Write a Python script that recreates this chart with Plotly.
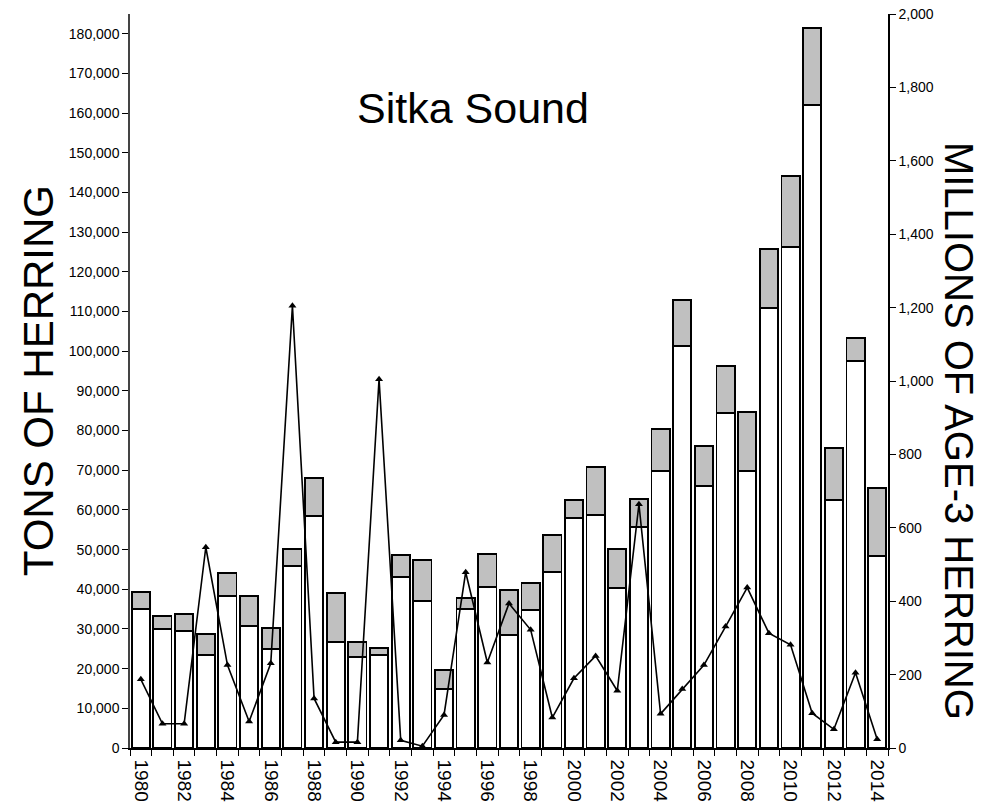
import plotly.graph_objects as go

years = list(range(1980, 2015))
total_tons = [39240, 33350, 33770, 28810, 44190, 38310, 30320, 50150, 67970, 39070,
              26630, 25290, 48640, 47300, 19660, 37880, 48980, 39740, 41590, 53690,
              62590, 70740, 50150, 62680, 80400, 112830, 76110, 96280, 84610, 125840,
              144240, 181470, 75690, 103260, 65450]
lower_tons = [34950, 29910, 29490, 23360, 38390, 30830, 24950, 45870, 58470, 26800,
              22850, 23360, 43180, 37050, 14790, 34950, 40660, 28480, 34780, 44450,
              57890, 58640, 40240, 55710, 69810, 101320, 66030, 84520, 69890, 110900,
              126270, 161980, 62510, 97540, 48470]
age3_millions = [187, 66, 66, 547, 226, 72, 231, 1205, 135, 16,
                 16, 1005, 21, 5, 90, 479, 233, 394, 322, 83,
                 190, 251, 156, 664, 93, 161, 226, 331, 437, 313,
                 281, 95, 51, 205, 24]
upper_tons = [t - l for t, l in zip(total_tons, lower_tons)]
label_years = [y for y in years if y % 2 == 0]

FONT = "Liberation Sans, Arial, sans-serif"

fig = go.Figure()
fig.add_trace(go.Bar(x=years, y=lower_tons, marker=dict(color="white", line=dict(color="black", width=1.8)),
                     showlegend=False))
fig.add_trace(go.Bar(x=years, y=upper_tons, marker=dict(color="#c0c0c0", line=dict(color="black", width=1.8)),
                     showlegend=False))
fig.add_trace(go.Scatter(x=years, y=age3_millions, yaxis="y2", mode="lines+markers",
                         line=dict(color="black", width=1.6),
                         marker=dict(symbol="triangle-up", size=7, color="black"),
                         showlegend=False))

fig.update_layout(
    width=989, height=809,
    margin=dict(l=130, r=101, t=14, b=61),
    paper_bgcolor="white", plot_bgcolor="white",
    barmode="stack", bargap=0.16,
    font=dict(family=FONT, color="black"),
    xaxis=dict(range=[1979.5, 2014.5], tickvals=label_years, ticktext=[str(y) for y in label_years],
               ticks="", tickangle=90, tickfont=dict(size=19), ticklabelstandoff=6, automargin=False,
               ticklabeloverflow="allow",
               showline=True, linecolor="black", linewidth=1.5, showgrid=False, zeroline=False,
               minor=dict(ticks="outside", ticklen=6, tick0=1979.5, dtick=1, tickcolor="black",
                          tickwidth=1, showgrid=False)),
    yaxis=dict(range=[0, 185000], dtick=10000, tickformat=",", ticks="outside", ticklen=6,
               tickcolor="black", tickfont=dict(size=14), showline=True, linecolor="#444444",
               linewidth=1.5, showgrid=False, zeroline=False, automargin=False,
               ticklabeloverflow="allow"),
    yaxis2=dict(range=[0, 2000], dtick=200, tickformat=",", ticks="outside", ticklen=6,
                tickcolor="black", tickfont=dict(size=14), overlaying="y", side="right",
                showline=True, linecolor="black", linewidth=1.5, showgrid=False, zeroline=False,
                automargin=False, ticklabeloverflow="allow"),
    annotations=[
        dict(text="Sitka Sound", xref="paper", yref="paper", x=0.4525, y=0.872,
             showarrow=False, font=dict(size=43, family=FONT), xanchor="center", yanchor="middle"),
        dict(text="TONS OF HERRING", xref="paper", yref="paper", x=-0.1214, y=0.501,
             textangle=-90, showarrow=False, font=dict(size=42, family=FONT),
             xanchor="center", yanchor="middle"),
        dict(text="MILLIONS OF AGE-3 HERRING", xref="paper", yref="paper", x=1.0937, y=0.432,
             textangle=90, showarrow=False, font=dict(size=40, family=FONT),
             xanchor="center", yanchor="middle"),
    ],
)

fig.write_html("out.html", config={"displayModeBar": False},
               post_script="document.body.style.margin='0';document.body.style.overflow='hidden';")
